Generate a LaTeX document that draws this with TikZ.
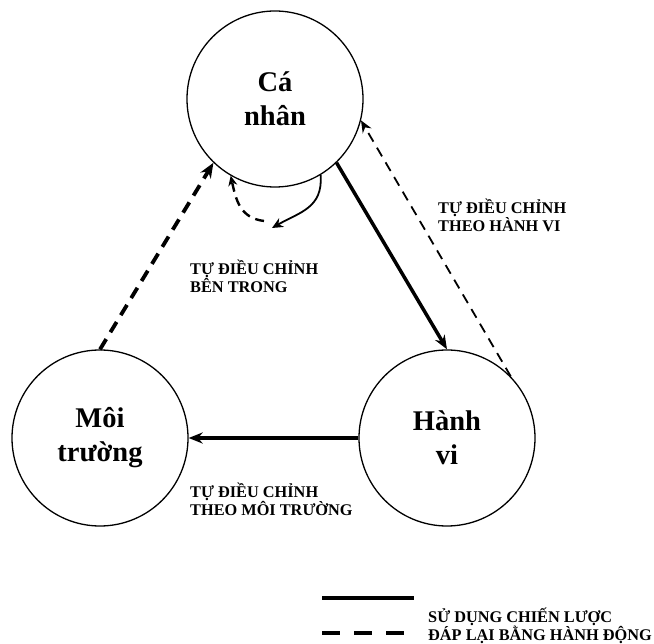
\documentclass[tikz,border=0pt]{standalone}
\usepackage{fontspec}
\setmainfont{Liberation Serif}
\usetikzlibrary{arrows.meta}
\begin{document}
\begin{tikzpicture}[x=1pt,y=-1pt,
  agent/.style={draw,circle,line width=1.3pt,minimum size=176pt,inner sep=0pt,align=center,
    font=\fontsize{28.5}{34}\selectfont\bfseries},
  lbl/.style={anchor=base west,align=left,inner sep=0pt,font=\fontsize{16.3}{18}\selectfont\bfseries},
  solidarr/.style={line width=3.5pt,-{Stealth[length=14pt,width=11pt]}},
  thickdash/.style={line width=3.8pt,dash pattern=on 12pt off 8pt,-{Stealth[length=15pt,width=12pt]}},
  thindash/.style={line width=1.8pt,dash pattern=on 10pt off 7pt,-{Stealth[length=12pt,width=10pt]}},
  loopdash/.style={line width=2.4pt,dash pattern=on 9pt off 6pt,-{Stealth[length=10pt,width=9pt]}},
  loopsolid/.style={line width=1.8pt,-{Stealth[length=11pt,width=10pt]}}
]
\useasboundingbox (0,0) rectangle (654,644);
\node[agent] (cn) at (275,99) {Cá\\nhân};
\node[agent] (mt) at (100,438) {Môi\\trường};
\node[agent] (hv) at (447,438) {Hành\\vi};

\draw[solidarr] (cn.-46) -- (hv.north);
\draw[thindash] (hv.44) -- (cn.-14);
\draw[thickdash] (mt.north) -- (cn.226);
\draw[solidarr] (hv.west) -- (mt.east);

\coordinate (lp) at (272,228);
\coordinate (lq) at (264,221);
\draw[loopsolid] (cn.-59) .. controls (323,208) and (300,212) .. (lp);
\draw[loopdash] (lq) .. controls (240,218) and (236,200) .. (cn.240);

\node[lbl] (l1) at (190,293) {TỰ ĐIỀU CHỈNH\\BÊN TRONG};
\node[lbl] (l2) at (438,232) {TỰ ĐIỀU CHỈNH\\THEO HÀNH VI};
\node[lbl] (l3) at (190,515) {TỰ ĐIỀU CHỈNH\\THEO MÔI TRƯỜNG};

\coordinate (s1) at (322,598);
\coordinate (s2) at (414,598);
\coordinate (d1) at (322,633);
\coordinate (d2) at (404,633);
\draw[line width=4pt] (s1) -- (s2);
\draw[line width=4pt,dash pattern=on 18pt off 14pt] (d1) -- (d2);
\node[lbl] (leg) at (428,640) {SỬ DỤNG CHIẾN LƯỢC\\ĐÁP LẠI BẰNG HÀNH ĐỘNG};
\end{tikzpicture}
\end{document}
